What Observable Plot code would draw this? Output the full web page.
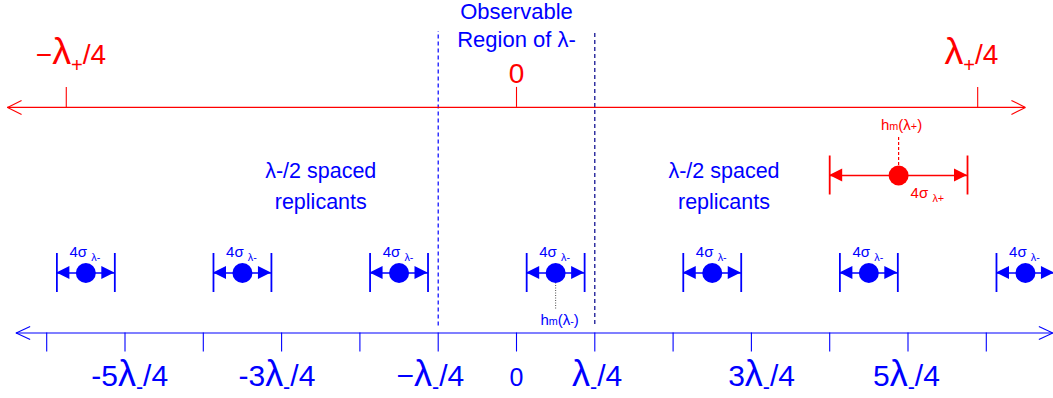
<!DOCTYPE html>
<html><head><meta charset="utf-8">
<script src="https://cdn.jsdelivr.net/npm/d3@7"></script>
<script src="https://cdn.jsdelivr.net/npm/@observablehq/plot@0.6"></script>
<style>body{margin:0;background:#fff} #chart svg{display:block}</style>
</head><body><div id="chart"></div>
<script>
// ---------- data (x in units of λ-/4, 0 = origin) ----------
const blueTicks = [-6,-5,-4,-3,-2,-1,0,1,2,3,4,5,6];
const blueLabelX = [-4.94,-3.06,-1.10,0,1.03,3.13,4.98];
const blueLabels = ["-5λ_{-}/4","-3λ_{-}/4","−λ_{-}/4","0","λ_{-}/4","3λ_{-}/4","5λ_{-}/4"];
const replicaX = [-5.5,-3.5,-1.5,0.5,2.5,4.5,6.5];   // λ-/2 spaced replicants of hm(λ-)
const replicaHalf = 0.37;                             // 2σ(λ-)
const redTickX = [-5.75, 0, 5.89];                    // -λ+/4, 0, λ+/4
const redLabelX = [-5.69, 5.81];
const redLabels = ["−λ_{+}/4", "λ_{+}/4"];
const redZeroLabel = ["0"];
const redDotX = [4.88];                               // hm(λ+)
const redHalf = 0.88;                                 // 2σ(λ+)
const regionX = [-1, 1];                              // observable region of λ-
const blueAxisExtent = [-6.39, 6.85];
const redAxisExtent = [-6.5, 6.5];
const replicantTextX = [-2.5, 2.65];
const replicantText = ["λ-/2 spaced\nreplicants", "λ-/2 spaced\nreplicants"];
const regionText = ["Observable\nRegion of λ-"];

// ---------- layout / style ----------
const W = 1053, H = 398;
const pxX = 78.3, pxY = 60;
const X = p => p / pxX, Y = p => p / pxY;
const level = {blueAxis: 0, blueDots: 1, redDot: 2.625, redAxis: 3.76};
const BLUE = "#0000ff", RED = "#ff0000", NAVY = "#00008b";
const FONT = "Arial, 'Liberation Sans', sans-serif";
const LAMBDA_FONT = "'DejaVu Sans ExtraLight', Arial, 'Liberation Sans', sans-serif";

function arrowHeads([a, b], y, len, half) {
  return [
    {x1: a, y1: y, x2: a + X(len), y2: y + Y(half)},
    {x1: a, y1: y, x2: a + X(len), y2: y - Y(half)},
    {x1: b, y1: y, x2: b - X(len), y2: y + Y(half)},
    {x1: b, y1: y, x2: b - X(len), y2: y - Y(half)}
  ];
}
function triangles(centers, half, y, len, hh) {
  const out = [];
  centers.forEach((c, i) => {
    const l = c - half, r = c + half;
    out.push({id: i + "L", x: l, y1: y, y2: y});
    out.push({id: i + "L", x: l + X(len), y1: y - Y(hh), y2: y + Y(hh)});
    out.push({id: i + "R", x: r, y1: y, y2: y});
    out.push({id: i + "R", x: r - X(len), y1: y - Y(hh), y2: y + Y(hh)});
  });
  return out;
}
function errorBar(centers, half, y, color) {
  return [
    Plot.link(centers, {x1: d => d - half, x2: d => d + half, y1: y, y2: y, stroke: color, strokeWidth: 1.5}),
    Plot.ruleX(centers.flatMap(d => [d - half, d + half]), {x: d => d, y1: y - Y(19.5), y2: y + Y(19.5), stroke: color, strokeWidth: 1.8}),
    Plot.areaY(triangles(centers, half, y, 13, 6.5), {x: "x", y1: "y1", y2: "y2", z: "id", fill: color, curve: "linear"}),
    Plot.dot(centers, {x: d => d, y: y, r: 10, fill: color, stroke: "none"})
  ];
}

const plot = Plot.plot({
  width: W, height: H,
  marginTop: 0, marginRight: 0, marginBottom: 0, marginLeft: 0,
  x: {domain: [X(-516), X(W - 516)], axis: null},
  y: {domain: [Y(332.5 - H), Y(332.5)], axis: null},
  style: {background: "#fff", overflow: "visible"},
  marks: [
    // dashed boundaries of the observable region
    Plot.ruleX([regionX[0]], {x: d => d, y1: level.blueAxis + Y(7), y2: level.blueAxis + Y(301.5), stroke: BLUE, strokeWidth: 1.2, strokeDasharray: "4,3"}),
    Plot.ruleX([regionX[1]], {x: d => d, y1: level.blueAxis + Y(8.5), y2: level.blueAxis + Y(301.5), stroke: NAVY, strokeWidth: 1.2, strokeDasharray: "4,3"}),
    // red axis
    Plot.ruleY([level.redAxis], {y: d => d, x1: redAxisExtent[0], x2: redAxisExtent[1], stroke: RED, strokeWidth: 1.1}),
    Plot.link(arrowHeads(redAxisExtent, level.redAxis, 14, 7), {x1: "x1", y1: "y1", x2: "x2", y2: "y2", stroke: RED, strokeWidth: 1.1}),
    Plot.ruleX(redTickX, {x: d => d, y1: level.redAxis, y2: level.redAxis + Y(20), stroke: RED, strokeWidth: 1.1}),
    // blue axis
    Plot.ruleY([level.blueAxis], {y: d => d, x1: blueAxisExtent[0], x2: blueAxisExtent[1], stroke: BLUE, strokeWidth: 1.1}),
    Plot.link(arrowHeads(blueAxisExtent, level.blueAxis, 14, 6.5), {x1: "x1", y1: "y1", x2: "x2", y2: "y2", stroke: BLUE, strokeWidth: 1.1}),
    Plot.ruleX(blueTicks, {x: d => d, y1: level.blueAxis, y2: level.blueAxis - Y(19), stroke: BLUE, strokeWidth: 1.1}),
    // leader lines
    Plot.ruleX([replicaX[3]], {x: d => d, y1: level.blueDots - Y(10), y2: level.blueDots - Y(37), stroke: "#222", strokeWidth: 0.8, strokeDasharray: "1,1.5"}),
    Plot.ruleX(redDotX, {x: d => d, y1: level.redDot + Y(10), y2: level.redDot + Y(38), stroke: RED, strokeWidth: 1.2, strokeDasharray: "3,2"}),
    // error bars and dots
    ...errorBar(replicaX, replicaHalf, level.blueDots, BLUE),
    ...errorBar(redDotX, redHalf, level.redDot, RED),
    // texts
    Plot.text(redLabels, {x: (d, i) => redLabelX[i], y: level.redAxis, dy: -43, text: d => d, fill: RED, fontSize: 28, fontFamily: FONT, lineAnchor: "bottom"}),
    Plot.text(redZeroLabel, {x: redTickX[1], y: level.redAxis, dy: -24, text: d => d, fill: RED, fontSize: 28, fontFamily: FONT, lineAnchor: "bottom"}),
    Plot.text(blueLabels, {x: (d, i) => blueLabelX[i], y: level.blueAxis, dy: 53, text: d => d, fill: BLUE, fontSize: d => d === "0" ? 25 : 30, fontFamily: FONT, lineAnchor: "bottom"}),
    Plot.text(regionText, {x: 0, y: level.redAxis, dy: -60, text: d => d, fill: BLUE, fontSize: 22, fontFamily: FONT, lineAnchor: "bottom", lineHeight: 1.3}),
    Plot.text(replicantText, {x: (d, i) => replicantTextX[i], y: level.blueDots, dy: -64.5, text: d => d, fill: BLUE, fontSize: 21.5, fontFamily: FONT, lineAnchor: "bottom", lineHeight: 1.42}),
    Plot.text(replicaX, {x: d => d, y: level.blueDots, dx: -1, dy: -16, text: () => "4σ _{λ-}", fill: BLUE, fontSize: 15, fontFamily: FONT, lineAnchor: "bottom"}),
    Plot.text([replicaX[3]], {x: d => d, y: level.blueDots, dx: 4, dy: 52, text: () => "h~{m}(λ~{-})", fill: BLUE, fontSize: 15, fontFamily: FONT, lineAnchor: "bottom"}),
    Plot.text(redDotX, {x: d => d, y: level.redDot, dx: 3, dy: -46, text: () => "h~{m}(λ~{+})", fill: RED, fontSize: 15, fontFamily: FONT, lineAnchor: "bottom"}),
    Plot.text(redDotX, {x: d => d, y: level.redDot, dx: 12, dy: 22, text: () => "4σ _{λ+}", fill: RED, fontSize: 15, fontFamily: FONT, lineAnchor: "bottom", textAnchor: "start"})
  ]
});

// turn _{..} into subscripts, ~{..} into small text, enlarge λ in big labels
function richText(root) {
  const NS = "http://www.w3.org/2000/svg";
  const scale = 0.72, shift = 0.27, small = 0.72;
  root.querySelectorAll("text, tspan").forEach(el => {
    if (el.children.length) return;
    const s = el.textContent;
    const holder = el.closest("[font-size]");
    const fs = holder ? parseFloat(holder.getAttribute("font-size")) : 10;
    const big = fs >= 24;
    const lam = fs >= 29 ? 1.2 : 1.35;
    if (!/[_~]\{/.test(s) && !(big && s.includes("λ"))) return;
    const parts = s.split(/([_~]\{[^}]*\})/);
    const pieces = [];
    let down = false;
    for (const p of parts) {
      if (!p) continue;
      if (p.startsWith("_{")) {
        pieces.push({t: p.slice(2, -1), size: scale, dy: down ? null : shift / scale});
        down = true;
      } else if (p.startsWith("~{")) {
        pieces.push({t: p.slice(2, -1), size: small, dy: down ? -shift / small : null});
        down = false;
      } else {
        const sub = big ? p.split(/(λ)/) : [p];
        for (const q of sub) {
          if (!q) continue;
          const isL = big && q === "λ";
          const k = isL ? lam : 1;
          pieces.push({t: q, size: isL ? k : null, dy: down ? -shift / k : null, font: isL ? LAMBDA_FONT : null});
          down = false;
        }
      }
    }
    el.textContent = "";
    for (const pc of pieces) {
      const t = document.createElementNS(NS, "tspan");
      t.textContent = pc.t;
      if (pc.size) t.setAttribute("font-size", (pc.size * 100) + "%");
      if (pc.dy != null) t.setAttribute("dy", pc.dy + "em");
      if (pc.font) t.setAttribute("font-family", pc.font);
      el.appendChild(t);
    }
  });
}
richText(plot);
document.getElementById("chart").appendChild(plot);
</script>
</body></html>
